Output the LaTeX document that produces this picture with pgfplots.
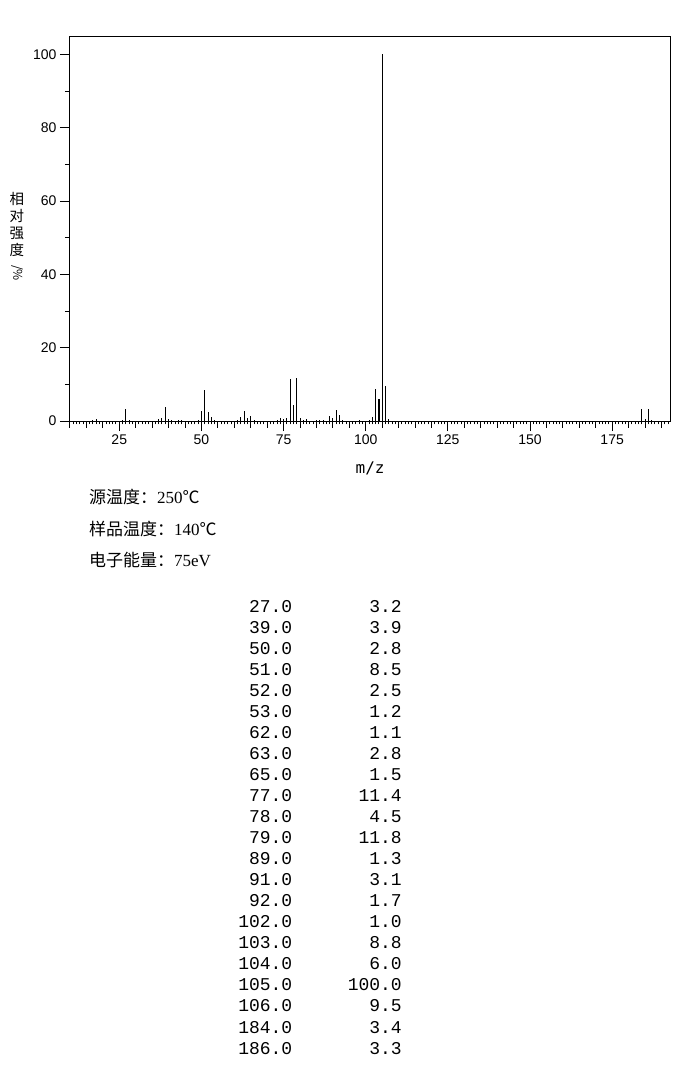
\documentclass[border=0pt]{standalone}
\usepackage{fontspec}
\usepackage{graphicx}
\usepackage{pgfplots}
\pgfplotsset{compat=1.18}
\setmainfont{Liberation Sans}
\newfontfamily\cjk{Noto Sans CJK SC}
\newfontfamily\tabfont{Liberation Mono}
\newfontfamily\latinserif{Liberation Serif}
\newfontfamily\labelmono{DejaVu Sans Mono}

\begin{document}
\begin{tikzpicture}
\path[use as bounding box] (0pt,0pt) rectangle (696pt,-1077pt);
\begin{axis}[
    at={(70pt,-421pt)}, anchor=south west,
    scale only axis, width=600.3pt, height=385pt,
    xmin=10, xmax=192.7, ymin=0, ymax=105,
    axis line style={line width=1pt},
    every tick/.style={black, line width=1pt},
    tick align=outside,
    xtick pos=bottom, ytick pos=left,
    major tick length=10pt, minor tick length=3.3pt,
    xtick={25,50,...,175},
    minor xtick={10,...,192},
    extra x ticks={10,15,...,190},
    extra x tick labels={},
    extra x tick style={major tick length=6.7pt},
    ytick={0,20,...,100},
    extra y ticks={10,30,...,90},
    extra y tick labels={},
    extra y tick style={major tick length=5pt},
    tick label style={font=\fontsize{14}{14}\selectfont},
    /pgf/number format/assume math mode=true,
    every axis x label/.style={at={(axis description cs:0.5,0)}, anchor=center, yshift=-47pt},
    every axis y label/.style={at={(axis description cs:0,0.5)}, anchor=center, xshift=-53pt, yshift=-8pt},
    xlabel={m/z},
    xlabel style={font=\labelmono\fontsize{16}{16}\selectfont},
    ylabel={相\\对\\强\\度\\[-7pt]\rotatebox{-90}{\fontsize{12}{12}\selectfont/\%}},
    ylabel style={align=center, font=\cjk\fontsize{14.5}{17}\selectfont},
]
% main peaks (listed)
\addplot[ycomb, black, line width=1pt, mark=none] coordinates {
    (27,3.2) (39,3.9) (50,2.8) (51,8.5) (52,2.5) (53,1.2)
    (62,1.1) (63,2.8) (65,1.5) (77,11.4) (78,4.5) (79,11.8)
    (89,1.3) (91,3.1) (92,1.7) (102,1.0) (103,8.8)
    (105,100.0) (106,9.5) (184,3.4) (186,3.3)
};
\addplot[ycomb, black, line width=2pt, mark=none] coordinates {(104,6.0)};
% small peaks (below 1 %)
\addplot[ycomb, black, line width=1pt, mark=none] coordinates {
    (17,0.4) (18,0.6) (26,0.4) (28,0.3) (37,0.5) (38,0.9)
    (40,0.6) (41,0.4) (43,0.3) (44,0.3) (49,0.4) (54,0.4)
    (61,0.4) (64,0.9) (66,0.4) (73,0.4) (74,0.8) (75,0.6)
    (76,0.8) (80,0.8) (81,0.4) (82,0.6) (85,0.4) (86,0.4)
    (87,0.4) (90,0.8) (93,0.4) (98,0.4) (101,0.4) (107,0.6)
    (185,0.5) (187,0.3)
};
\end{axis}

% conditions
\begin{scope}[every node/.style={anchor=base west, inner sep=0pt, font=\fontsize{17}{20}\selectfont}]
\node at (89pt,-503pt) {{\cjk 源温度：}{\latinserif 250}{\cjk ℃}};
\node at (89pt,-535pt) {{\cjk 样品温度：}{\latinserif 140}{\cjk ℃}};
\node at (89pt,-566.5pt) {{\cjk 电子能量：}{\latinserif 75eV}};
\end{scope}

% peak list
\foreach \m/\r [count=\i from 0] in {27.0/3.2, 39.0/3.9, 50.0/2.8, 51.0/8.5,
    52.0/2.5, 53.0/1.2, 62.0/1.1, 63.0/2.8, 65.0/1.5, 77.0/11.4, 78.0/4.5,
    79.0/11.8, 89.0/1.3, 91.0/3.1, 92.0/1.7, 102.0/1.0, 103.0/8.8,
    104.0/6.0, 105.0/100.0, 106.0/9.5, 184.0/3.4, 186.0/3.3} {
  \node[anchor=base east, inner sep=0pt, font=\tabfont\fontsize{18}{20}\selectfont]
    at (292.5pt, {-612pt-\i*21.05pt}) {\m};
  \node[anchor=base east, inner sep=0pt, font=\tabfont\fontsize{18}{20}\selectfont]
    at (402pt, {-612pt-\i*21.05pt}) {\r};
}
\end{tikzpicture}
\end{document}
